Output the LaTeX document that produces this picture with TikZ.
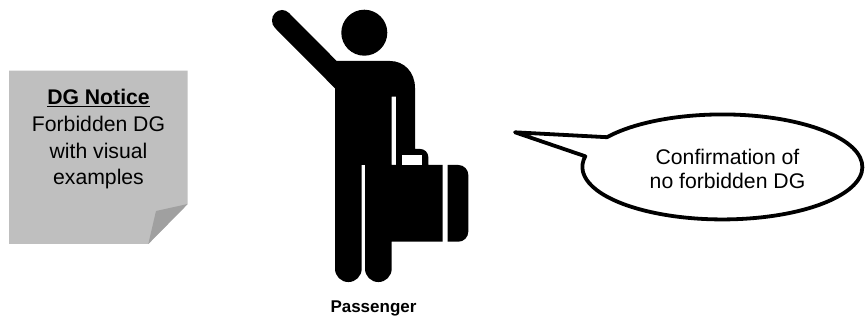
\documentclass[tikz,border=0pt]{standalone}
\usepackage{fontspec}
\setmainfont{Liberation Sans}
\begin{document}
\begin{tikzpicture}[x=1pt,y=1pt,
  figure/.style={fill=black,draw=none},
  notefill/.style={fill=note,draw=none},
  label/.style={align=center,inner sep=0pt,text=black,font=\fontsize{21.2}{26.8}\selectfont}]
\definecolor{note}{HTML}{BFBFBF}
\definecolor{notefold}{HTML}{A0A0A0}
\useasboundingbox (0,0) rectangle (865,-320);
\fill[white] (0,0) rectangle (865,-320);
% notice sheet
\path[notefill] (9,-70.7) -- (187.7,-70.7) -- (187.7,-204) -- (148.3,-244) -- (9,-244) -- cycle;
\path[fill=notefold] (187.7,-204) -- (156,-211) -- (148.3,-244) -- cycle;
\node[label] (notice) at (98.5,-139.2) {\underline{\textbf{DG Notice}}\\Forbidden DG\\with visual\\examples};
% passenger
\path[figure] (364.3,-32.7) circle (23);
\path[figure] (275,-13) .. controls (271,-17) and (271,-24) .. (275,-28)
  -- (335,-88.3) -- (335,-268.7)
  arc[start angle=180,end angle=360,radius=13.35]
  -- (361.7,-165) -- (365,-165) -- (365,-268.7)
  arc[start angle=180,end angle=360,radius=13.35]
  -- (391.7,-96.7) -- (396,-96.7) -- (396,-165) -- (391.7,-165)
  -- (391.7,-241.7) -- (442.7,-241.7) -- (442.7,-165) -- (428.3,-165)
  -- (428.3,-157) arc[start angle=0,end angle=90,radius=8] -- (415,-149)
  -- (415,-88) .. controls (415,-72) and (404,-61) .. (390,-61)
  -- (336.7,-61) -- (289,-13) .. controls (285,-9) and (279,-9) .. (275,-13) -- cycle;
\path[figure,fill=white] (401.7,-155) rectangle (422,-165);
\path[figure] (447.7,-165) -- (458.3,-165) arc[start angle=90,end angle=0,radius=10]
  -- (468.3,-231.7) arc[start angle=360,end angle=270,radius=10] -- (447.7,-241.7) -- cycle;
\node[label,font=\fontsize{17}{21}\selectfont\bfseries] (passenger) at (373.5,-308) {Passenger};
% speech bubble
\draw[line width=3.8pt,line join=round,fill=white]
  (515,-132.3) -- (607,-137.2)
  arc[start angle=145.5,end angle=-191.7,x radius=140,y radius=52.5]
  -- cycle;
\node[label,font=\fontsize{21.2}{23.5}\selectfont] (reply) at (727.5,-168.7) {Confirmation of\\no forbidden DG};
\end{tikzpicture}
\end{document}
